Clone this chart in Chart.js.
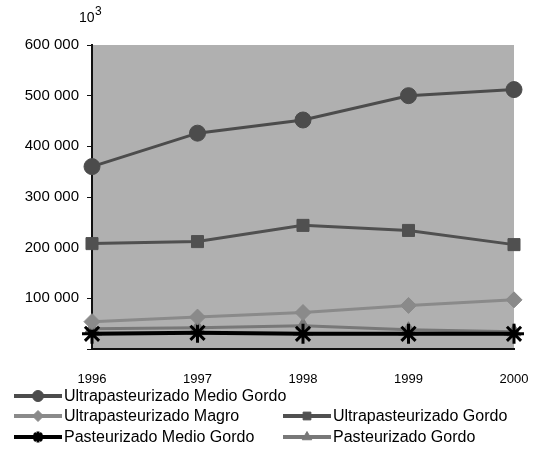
<!DOCTYPE html>
<html>
<head>
<meta charset="utf-8">
<script src="https://cdn.jsdelivr.net/npm/chart.js@4/dist/chart.umd.min.js"></script>
<style>
  html, body { margin: 0; padding: 0; background: #fff; }
  #wrap { width: 554px; height: 456px; position: relative; }
</style>
</head>
<body>
<div id="wrap"><canvas id="lechechart" width="554" height="456"></canvas></div>
<script>
//years on the x axis
const years = ['1996', '1997', '1998', '1999', '2000'];
//series values (miles de litros)
const ultraMedioGordo = [360000, 426000, 452000, 500000, 512000];
const ultraGordo = [208000, 212000, 244000, 234000, 206000];
const ultraMagro = [54000, 63000, 72000, 86000, 97000];
const pastMedioGordo = [30000, 32000, 30000, 30000, 30000];
const pastGordo = [40000, 42000, 46000, 38000, 34000];
//y ticks
const yTicks = [0, 100000, 200000, 300000, 400000, 500000, 600000];

const font = "'Liberation Sans', Arial, sans-serif";

//fill the plot area grey
const plotBg = {
  id: 'plotBg',
  beforeDraw(chart) {
    const a = chart.chartArea, c = chart.ctx;
    c.save();
    c.fillStyle = '#b0b0b0';
    c.fillRect(a.left, a.top, a.right - a.left, a.bottom - a.top);
    c.restore();
  }
};

//legend laid out in rows like the original sheet + the 10^3 unit label
const sheetLegend = {
  id: 'sheetLegend',
  afterDraw(chart) {
    const c = chart.ctx;
    const a = chart.chartArea;
    c.save();
    c.fillStyle = '#000';
    c.font = '14px ' + font;
    c.textBaseline = 'alphabetic';
    c.textAlign = 'left';
    c.fillText('10', a.left - 13, a.top - 23);
    c.font = '12px ' + font;
    c.fillText('3', a.left + 3, a.top - 30);

    const slots = [[0, 14, 396], [1, 283, 416], [2, 14, 416], [3, 14, 437], [4, 283, 437]];
    slots.forEach(([i, x, y]) => {
      const ds = chart.data.datasets[i];
      c.strokeStyle = ds.borderColor;
      c.lineWidth = 4;
      c.beginPath();
      c.moveTo(x, y);
      c.lineTo(x + 48, y);
      c.stroke();
      c.fillStyle = ds.pointBackgroundColor;
      c.strokeStyle = ds.pointBorderColor;
      c.lineWidth = ds.pointBorderWidth;
      Chart.helpers.drawPoint(c, {pointStyle: ds.pointStyle, radius: 5.5, rotation: 0, borderWidth: ds.pointBorderWidth}, x + 24, y);
      c.fillStyle = '#000';
      c.font = '16px ' + font;
      c.textBaseline = 'middle';
      c.fillText(ds.label, x + 50, y + 1);
    });
    c.restore();
  }
};

function series(label, data, color, style, radius, width) {
  return {
    label: label,
    data: data,
    borderColor: color,
    borderWidth: width,
    pointStyle: style,
    pointRadius: radius,
    pointHoverRadius: radius,
    pointBackgroundColor: color,
    pointBorderColor: color,
    pointBorderWidth: style === 'star' ? 3 : 1,
    tension: 0
  };
}

const ctx = document.getElementById('lechechart');

new Chart(ctx, {
  type: 'line',
  data: {
    labels: years,
    datasets: [
      series('Ultrapasteurizado Medio Gordo', ultraMedioGordo, '#4c4c4c', 'circle', 8, 3),
      series('Ultrapasteurizado Gordo', ultraGordo, '#505050', 'rect', 8.5, 3),
      series('Ultrapasteurizado Magro', ultraMagro, '#8a8a8a', 'rectRot', 8, 3),
      series('Pasteurizado Medio Gordo', pastMedioGordo, '#000000', 'star', 10, 4),
      series('Pasteurizado Gordo', pastGordo, '#787878', 'triangle', 8, 3)
    ]
  },
  options: {
    responsive: false,
    animation: false,
    layout: { padding: { top: 45, right: 40, bottom: 67, left: 0 } },
    plugins: {
      legend: { display: false },
      tooltip: { enabled: false }
    },
    scales: {
      x: {
        offset: false,
        afterFit: (s) => { s.height = 40; },
        border: { color: '#111', width: 2 },
        grid: { display: false, drawTicks: true, tickLength: 6, tickColor: '#111', drawOnChartArea: false },
        ticks: { color: '#000', padding: 17, font: { family: font, size: 13 }, maxRotation: 0 }
      },
      y: {
        min: 0,
        max: 600000,
        afterFit: (s) => { s.width = 92; },
        afterBuildTicks: (s) => { s.ticks = yTicks.map((v) => ({ value: v })); },
        border: { color: '#111', width: 2 },
        grid: { drawOnChartArea: false, tickLength: 5, tickColor: '#111' },
        ticks: {
          color: '#000',
          padding: 8,
          font: { family: font, size: 15 },
          callback: (v) => v === 0 ? '' : v.toLocaleString('en-US').replace(/,/g, ' ')
        }
      }
    }
  },
  plugins: [plotBg, sheetLegend]
});
</script>
</body>
</html>
